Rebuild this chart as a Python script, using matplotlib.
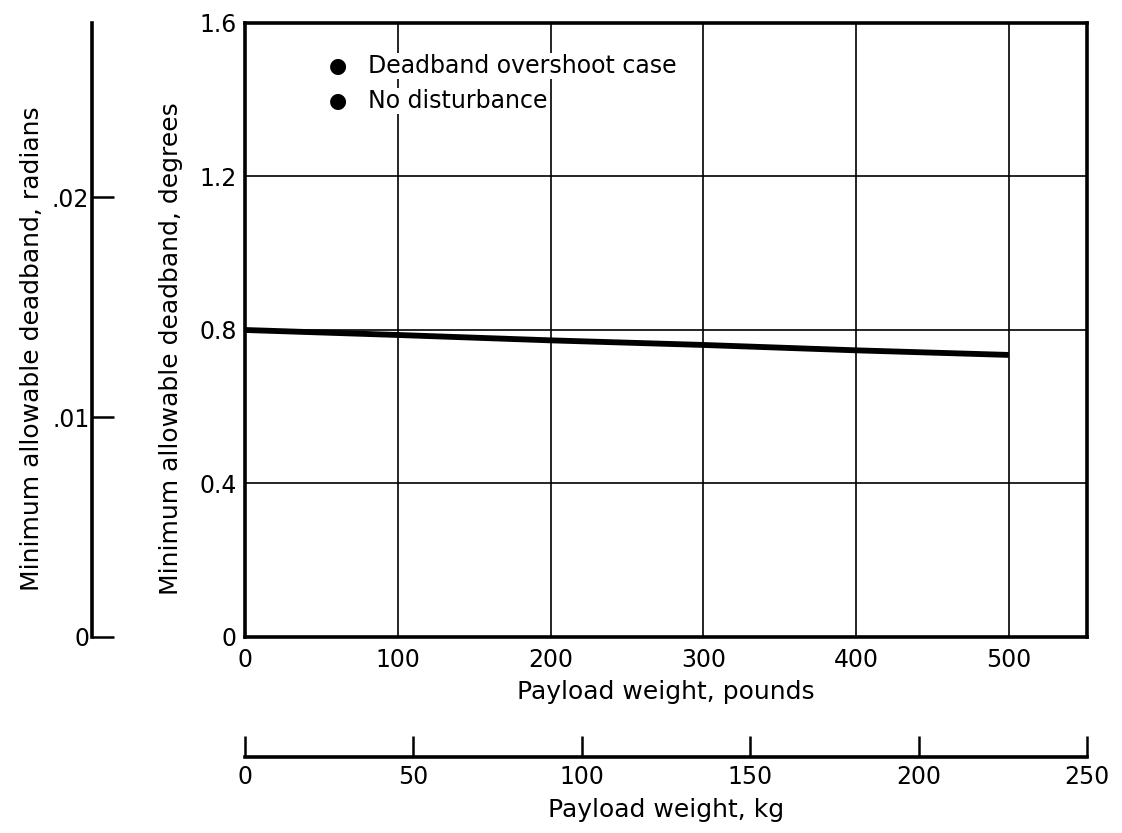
import numpy as np
import matplotlib
matplotlib.use("Agg")
import matplotlib.pyplot as plt

plt.rcParams['font.family'] = ['DejaVu Sans']

# Payload weight (pounds) and minimum allowable deadband (degrees)
payload_lb = [0, 100, 200, 300, 400, 500]
deadband_deg = [0.800, 0.787, 0.773, 0.761, 0.747, 0.735]

lb_ticks = [0, 100, 200, 300, 400, 500]
kg_ticks = [0, 50, 100, 150, 200, 250]
deg_ticks = [0, 0.4, 0.8, 1.2, 1.6]
deg_tick_labels = ["0", "0.4", "0.8", "1.2", "1.6"]
rad_ticks = [0, 0.01, 0.02]
rad_tick_labels = ["0", ".01", ".02"]

legend_lines = ["Deadband overshoot case", "No disturbance"]

LB_PER_KG = 2.20462
FS = 17
LFS = 18

fig = plt.figure(figsize=(11.22, 8.33), dpi=100)
ax = fig.add_axes([0.2184, 0.2353, 0.7504, 0.7371])

ax.plot(payload_lb, deadband_deg, color="black", lw=4.2, solid_capstyle="butt")

ax.set_xlim(0, 250 * LB_PER_KG)
ax.set_ylim(0, 1.6)
ax.set_xticks(lb_ticks)
ax.set_yticks(deg_ticks)
ax.set_yticklabels(deg_tick_labels)
ax.grid(True, color="black", lw=1.2)
ax.tick_params(axis="both", length=0, labelsize=FS)
ax.tick_params(axis="x", pad=8)
ax.tick_params(axis="y", pad=6)
for s in ax.spines.values():
    s.set_linewidth(2.6)

ax.set_xlabel("Payload weight, pounds", fontsize=LFS, labelpad=6)
ax.set_ylabel("Minimum allowable deadband, degrees", fontsize=LFS, labelpad=12)
ax.yaxis.label.set_y(0.47)

# Legend entries: bullet plus text, with a white box so grid lines stop at the text
for i, txt in enumerate(legend_lines):
    y = 0.930 - i * 0.057
    ax.text(0.110, y, "\u25cf", transform=ax.transAxes, fontsize=FS - 2,
            va="center", ha="center")
    ax.text(0.146, y, txt, transform=ax.transAxes, fontsize=FS,
            va="center", ha="left",
            bbox=dict(facecolor="white", edgecolor="none", pad=1))

# Secondary axis in radians on the left
rad = ax.secondary_yaxis(-0.1817, functions=(np.deg2rad, np.rad2deg))
rad.set_yticks(rad_ticks)
rad.set_yticklabels(rad_tick_labels)
rad.tick_params(axis="y", direction="in", length=16, width=1.8, labelsize=FS, pad=2)
rad.spines["left"].set_linewidth(2.6)
rad.set_ylabel("Minimum allowable deadband, radians", fontsize=LFS, labelpad=6)
rad.yaxis.label.set_y(0.47)

# Secondary axis in kilograms below
kg = ax.secondary_xaxis(-0.1954, functions=(lambda x: np.asarray(x) / LB_PER_KG,
                                            lambda x: np.asarray(x) * LB_PER_KG))
kg.set_xticks(kg_ticks)
kg.tick_params(axis="x", direction="in", length=15, width=1.8, labelsize=FS, pad=6)
kg.spines["bottom"].set_linewidth(2.6)
kg.set_xlabel("Payload weight, kg", fontsize=LFS, labelpad=6)

fig.savefig("out.png", dpi=100)
